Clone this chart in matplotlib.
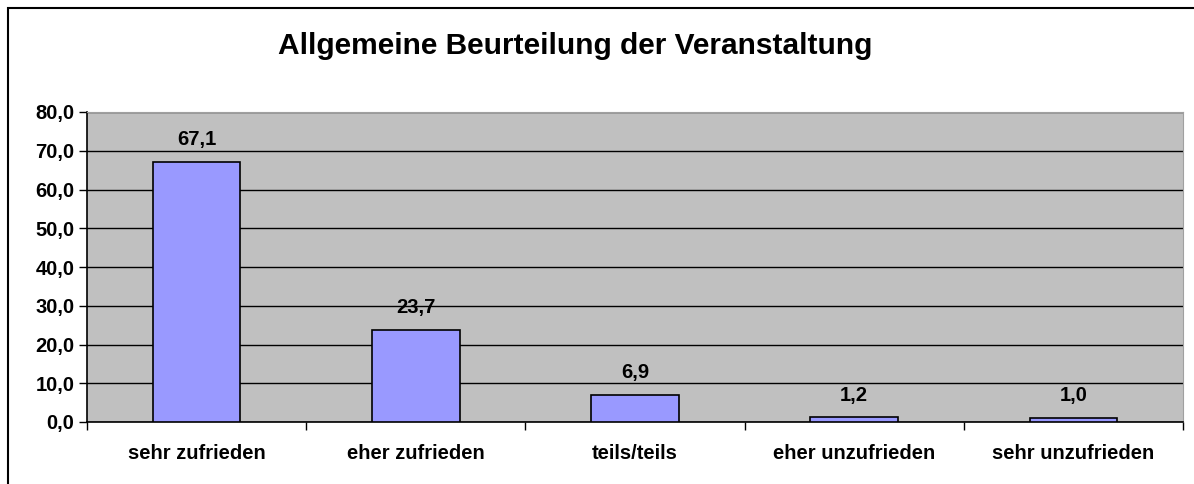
import matplotlib.pyplot as plt
from matplotlib.patches import Rectangle
from matplotlib.ticker import MultipleLocator, FuncFormatter

categories = ['sehr zufrieden', 'eher zufrieden', 'teils/teils', 'eher unzufrieden', 'sehr unzufrieden']
values = [67.1, 23.7, 6.9, 1.2, 1.0]

plt.rcParams['font.family'] = ['Liberation Sans', 'DejaVu Sans']
plt.rcParams['font.weight'] = 'bold'

W, H = 1194, 484
fig = plt.figure(figsize=(W / 100, H / 100), dpi=100)

# outer frame (right/bottom edges fall outside the image)
fig.patches.append(Rectangle((8 / W, -0.1), 1.2, (H - 8) / H + 0.1, transform=fig.transFigure,
                             fill=False, edgecolor='black', linewidth=1.5))

ax = fig.add_axes([87 / W, (H - 422) / H, (1183 - 87) / W, (422 - 112) / H])
ax.set_facecolor('#C0C0C0')

x = list(range(len(categories)))
ax.bar(x, values, width=0.4, color='#9999FF', edgecolor='black', linewidth=1.2, zorder=3)

for xi, v in zip(x, values):
    ax.text(xi, v + 3.3, f'{v:.1f}'.replace('.', ','), ha='center', va='bottom',
            fontsize=14.5, fontweight='bold')

ax.set_xlim(-0.5, len(categories) - 0.5)
ax.set_ylim(0, 80)
ax.yaxis.set_major_locator(MultipleLocator(10))
ax.yaxis.set_major_formatter(FuncFormatter(lambda v, p: f'{v:.1f}'.replace('.', ',')))
ax.grid(axis='y', color='black', linewidth=1, zorder=1)
ax.set_axisbelow(True)

ax.set_xticks(x)
ax.set_xticklabels(categories, fontsize=14.5, fontweight='bold')
ax.set_xticks([i + 0.5 for i in range(-1, len(categories))], minor=True)
ax.tick_params(axis='x', which='major', length=0, pad=16)
ax.tick_params(axis='x', which='minor', length=6, width=1, color='black', direction='out')
ax.tick_params(axis='y', length=6, width=1, labelsize=14.5, pad=3)

for side in ['top', 'right']:
    ax.spines[side].set_color('#A0A0A0')
    ax.spines[side].set_linewidth(0.8)
ax.spines['left'].set_linewidth(1.2)
ax.spines['bottom'].set_linewidth(1.2)

fig.text(0.5 * (274 + 877) / W, (H - 46) / H, 'Allgemeine Beurteilung der Veranstaltung',
         ha='center', va='center', fontsize=21.5, fontweight='bold')

fig.savefig('out.png', dpi=100)
